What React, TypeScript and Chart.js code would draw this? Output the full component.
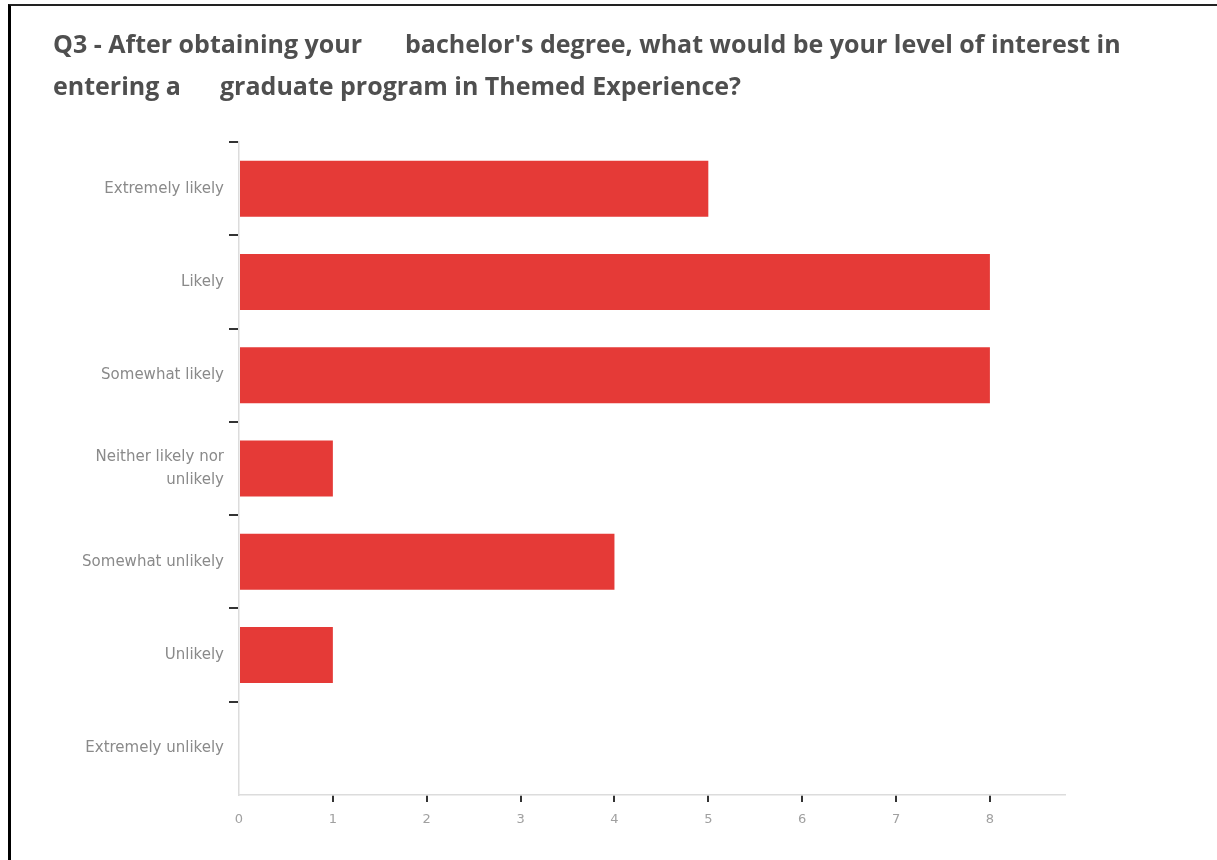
import React, { useEffect, useRef } from "react";
import { Chart, registerables } from "chart.js";

Chart.register(...registerables);

const categories: (string | string[])[] = [
  "Extremely likely",
  "Likely",
  "Somewhat likely",
  ["Neither likely nor", "unlikely"],
  "Somewhat unlikely",
  "Unlikely",
  "Extremely unlikely",
];
const counts = [5, 8, 8, 1, 4, 1, 0];
const xMin = 0;
const xMax = 8.8;
const xStep = 1;

const titleLine1a = "Q3 - After obtaining your";
const titleLine1b = "bachelor's degree, what would be your level of interest in";
const titleLine2a = "entering a";
const titleLine2b = "graduate program in Themed Experience?";

export default function App() {
  const ref = useRef<HTMLCanvasElement>(null);
  useEffect(() => {
    if (!ref.current) return;
    const chart = new Chart(ref.current, {
      type: "bar",
      data: {
        labels: categories,
        datasets: [
          {
            data: counts,
            backgroundColor: "#e53a37",
            borderWidth: 0,
            barPercentage: 0.6,
            categoryPercentage: 1,
          },
        ],
      },
      options: {
        indexAxis: "y",
        animation: false,
        responsive: false,
        maintainAspectRatio: false,
        layout: { padding: { left: 0, top: 142, right: 152, bottom: 25 } },
        plugins: { legend: { display: false }, tooltip: { enabled: false } },
        scales: {
          x: {
            type: "linear",
            min: xMin,
            max: xMax,
            ticks: {
              stepSize: xStep,
              color: "#a0a0a0",
              font: { family: "DejaVu Sans", size: 13 },
              padding: 10,
            },
            afterBuildTicks: (scale: any) => {
              scale.ticks = scale.ticks.filter((t: any) => Number.isInteger(t.value));
            },
            afterFit: (scale: any) => {
              scale.height = 40;
            },
            grid: {
              drawOnChartArea: false,
              drawTicks: true,
              tickLength: 7,
              lineWidth: 2,
              color: "#333",
              tickColor: (ctx: any) => (ctx.index === 0 ? "rgba(0,0,0,0)" : "#333"),
            },
            border: { color: "#dcdcdc", width: 1.5 },
          },
          y: {
            type: "category",
            ticks: {
              color: "#8a8a8a",
              font: { family: "DejaVu Sans", size: 15, lineHeight: 1.55 },
              padding: 5,
            },
            afterFit: (scale: any) => {
              scale.width = 239;
            },
            grid: {
              offset: true,
              drawOnChartArea: false,
              drawTicks: true,
              tickLength: 10,
              lineWidth: 2,
              color: "#333",
              tickColor: (ctx: any) =>
                ctx.type !== "tick" || ctx.index >= categories.length
                  ? "rgba(0,0,0,0)"
                  : "#333",
            },
            border: { color: "#dcdcdc", width: 1.5 },
          },
        },
      },
    });
    return () => chart.destroy();
  }, []);

  const titleStyle: React.CSSProperties = {
    position: "absolute",
    fontFamily: "'Open Sans', Lato, sans-serif",
    fontWeight: 700,
    fontSize: 25,
    color: "#4f4f4f",
    whiteSpace: "nowrap",
    lineHeight: "30px",
  };

  return (
    <div
      style={{
        position: "fixed",
        left: 0,
        top: 0,
        width: 1217,
        height: 860,
        background: "#fff",
        overflow: "hidden",
      }}
    >
      <div
        style={{
          position: "absolute",
          left: 8,
          top: 4,
          width: 1230,
          height: 900,
          borderTop: "2px solid #222",
          borderLeft: "3px solid #000",
          boxSizing: "border-box",
        }}
      />
      <canvas
        ref={ref}
        width={1217}
        height={860}
        style={{ position: "absolute", left: 0, top: 0, width: 1217, height: 860 }}
      />
      <div style={{ ...titleStyle, left: 53, top: 28 }}>{titleLine1a}</div>
      <div style={{ ...titleStyle, left: 405, top: 28 }}>{titleLine1b}</div>
      <div style={{ ...titleStyle, left: 53, top: 70 }}>{titleLine2a}</div>
      <div style={{ ...titleStyle, left: 220, top: 70 }}>{titleLine2b}</div>
    </div>
  );
}
